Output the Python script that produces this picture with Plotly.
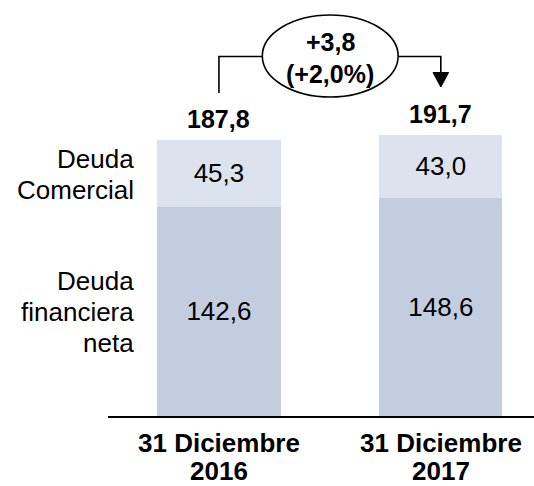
import plotly.graph_objects as go

# ---------------- data ----------------
categories = ["31 Diciembre<br>2016", "31 Diciembre<br>2017"]
series_names = ["Deuda<br>financiera<br>neta", "Deuda<br>Comercial"]
deuda_financiera = [142.6, 148.6]
deuda_comercial = [45.3, 43.0]
totals = [187.8, 191.7]
change_abs = 3.8
change_pct = 2.0

# ---------------- style / geometry ----------------
W, H = 534, 486
ML, MR, MT, MB = 107.5, 0, 0, 70
XR = [-0.5, 1.42]
YR = [0, 283.4]
PPX = (W - ML - MR) / (XR[1] - XR[0])
PPY = (H - MT - MB) / (YR[1] - YR[0])
BAR_W = 0.555
FONT = "Liberation Sans, Arial, sans-serif"
C_FIN = "#C3CDE0"
C_COM = "#DDE3EE"
LINE_GAP = 31  # px between stacked text lines


def fmt(v, sign=False):
    s = f"{v:+.1f}" if sign else f"{v:.1f}"
    return s.replace(".", ",")


def x_of(px):
    return XR[0] + (px - ML) / PPX


def y_of(py):
    return YR[0] + (H - MB - py) / PPY


def ypaper(py):
    return (H - MB - py) / (H - MT - MB)


xs = list(range(len(categories)))

fig = go.Figure()
for vals, col in ((deuda_financiera, C_FIN), (deuda_comercial, C_COM)):
    fig.add_trace(go.Bar(
        x=xs, y=vals, width=BAR_W, marker=dict(color=col, line=dict(width=0)),
        text=[fmt(v) for v in vals], textposition="inside",
        insidetextanchor="middle", textangle=0, constraintext="none",
        textfont=dict(family=FONT, size=26, color="black"), hoverinfo="skip",
    ))

ann = []
# totals above bars
for i, t in enumerate(totals):
    top = deuda_financiera[i] + deuda_comercial[i]
    ann.append(dict(x=i, y=top, xref="x", yref="y", yshift=21, showarrow=False,
                    text=f"<b>{fmt(t)}</b>", font=dict(family=FONT, size=25, color="black")))

# series labels to the left of first bar (one annotation per line for tight spacing)
seg_centres = [deuda_financiera[0] / 2, deuda_financiera[0] + deuda_comercial[0] / 2]
for name, yc in zip(series_names, seg_centres):
    lines = name.split("<br>")
    n = len(lines)
    for j, line in enumerate(lines):
        off = (j - (n - 1) / 2) * LINE_GAP
        ann.append(dict(x=xs[0] - BAR_W / 2, y=yc, xref="x", yref="y", xanchor="right",
                        yanchor="middle", xshift=-21, yshift=-1 - off, showarrow=False,
                        text=line, font=dict(family=FONT, size=26, color="black")))

# category labels (two tight lines)
for i, c in enumerate(categories):
    for j, line in enumerate(c.split("<br>")):
        ann.append(dict(x=i, y=ypaper(443 + 28 * j), xref="x", yref="paper", showarrow=False,
                        yanchor="middle",
                        text=f"<b>{line}</b>", font=dict(family=FONT, size=26, color="black")))

# change bubble
bx = x_of(330)
ann.append(dict(x=bx, y=y_of(42), xref="x", yref="y", showarrow=False,
                text=f"<b>{fmt(change_abs, True)}</b>", font=dict(family=FONT, size=25, color="black")))
ann.append(dict(x=bx, y=y_of(74), xref="x", yref="y", showarrow=False,
                text=f"<b>({fmt(change_pct, True)}%)</b>", font=dict(family=FONT, size=25, color="black")))

shapes = []
ex0, ex1, ey0, ey1 = x_of(262), x_of(398), y_of(97), y_of(15)
yh = y_of(56.5)
line_style = dict(color="black", width=1.6)
shapes.append(dict(type="path", xref="x", yref="y", layer="above", line=line_style,
                   path=f"M {xs[0]},{y_of(93)} L {xs[0]},{yh} L {ex0},{yh}"))
shapes.append(dict(type="path", xref="x", yref="y", layer="above", line=line_style,
                   path=f"M {ex1},{yh} L {xs[1]},{yh} L {xs[1]},{y_of(74)}"))
hw = 7.8 / PPX
shapes.append(dict(type="path", xref="x", yref="y", layer="above", fillcolor="black",
                   line=dict(color="black", width=1),
                   path=f"M {xs[1]-hw},{y_of(72.5)} L {xs[1]+hw},{y_of(72.5)} L {xs[1]},{y_of(87)} Z"))
shapes.append(dict(type="circle", xref="x", yref="y", layer="below", fillcolor="white",
                   line=line_style, x0=ex0, x1=ex1, y0=ey0, y1=ey1))

fig.update_layout(
    width=W, height=H, barmode="stack", showlegend=False,
    margin=dict(l=ML, r=MR, t=MT, b=MB, pad=0),
    paper_bgcolor="white", plot_bgcolor="white",
    xaxis=dict(range=XR, showgrid=False, zeroline=False, showticklabels=False, ticks="",
               showline=True, linecolor="black", linewidth=1.6, fixedrange=True),
    yaxis=dict(range=YR, visible=False, showgrid=False, zeroline=False, fixedrange=True),
    annotations=ann, shapes=shapes,
    font=dict(family=FONT, color="black"),
)

fig.write_html("out.html", config={"displayModeBar": False},
               post_script="document.body.style.margin='0';document.body.style.overflow='hidden';")
